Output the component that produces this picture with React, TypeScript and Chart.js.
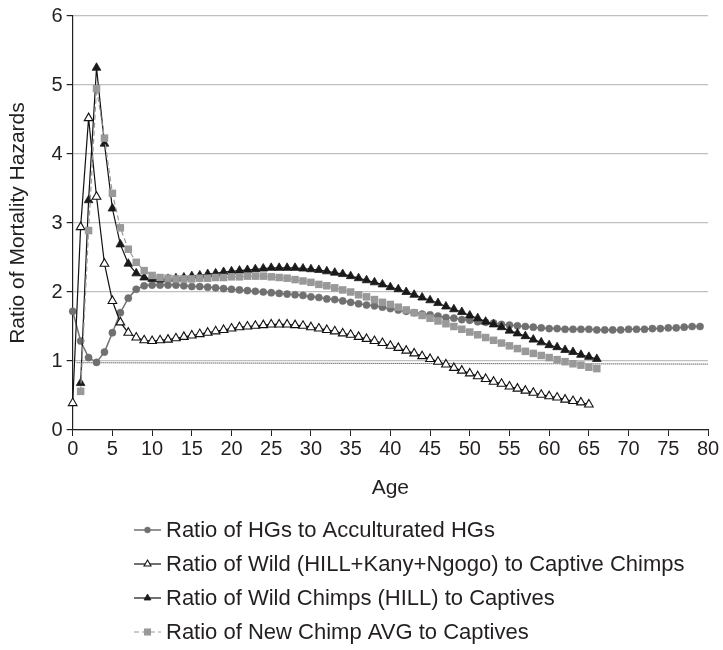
import React, { useEffect, useRef } from 'react';
import { Chart, registerables } from 'chart.js';

Chart.register(...registerables);

// ---------- data ----------
const AGES = [
  0, 1, 2, 3, 4, 5, 6, 7, 8, 9, 10, 11, 12, 13, 14, 15, 16, 17, 18, 19,
  20, 21, 22, 23, 24, 25, 26, 27, 28, 29, 30, 31, 32, 33, 34, 35, 36, 37, 38, 39,
  40, 41, 42, 43, 44, 45, 46, 47, 48, 49, 50, 51, 52, 53, 54, 55, 56, 57, 58, 59,
  60, 61, 62, 63, 64, 65, 66, 67, 68, 69, 70, 71, 72, 73, 74, 75, 76, 77, 78, 79,
];

const HG_TO_ACCULTURATED = [
  1.72, 1.29, 1.05, 0.98, 1.13, 1.41, 1.70, 1.91, 2.04, 2.09,
  2.10, 2.10, 2.10, 2.10, 2.09, 2.08, 2.08, 2.07, 2.06, 2.05,
  2.04, 2.03, 2.02, 2.01, 2.00, 1.99, 1.98, 1.97, 1.96, 1.95,
  1.93, 1.92, 1.90, 1.89, 1.87, 1.85, 1.83, 1.81, 1.80, 1.78,
  1.76, 1.74, 1.72, 1.70, 1.68, 1.67, 1.65, 1.63, 1.62, 1.60,
  1.59, 1.57, 1.56, 1.55, 1.53, 1.52, 1.51, 1.50, 1.49, 1.48,
  1.47, 1.47, 1.46, 1.46, 1.46, 1.46, 1.45, 1.45, 1.45, 1.45,
  1.46, 1.46, 1.46, 1.47, 1.47, 1.48, 1.48, 1.49, 1.50, 1.50,
];

const WILD_ALL_TO_CAPTIVE = [
  0.39, 2.94, 4.52, 3.38, 2.41, 1.87, 1.56, 1.41, 1.34, 1.30,
  1.29, 1.30, 1.31, 1.33, 1.35, 1.37, 1.39, 1.41, 1.43, 1.45,
  1.47, 1.49, 1.50, 1.51, 1.52, 1.53, 1.53, 1.53, 1.52, 1.51,
  1.49, 1.47, 1.45, 1.43, 1.40, 1.38, 1.35, 1.32, 1.29, 1.26,
  1.22, 1.19, 1.15, 1.11, 1.07, 1.03, 0.99, 0.95, 0.90, 0.86,
  0.82, 0.78, 0.74, 0.70, 0.67, 0.63, 0.60, 0.57, 0.54, 0.51,
  0.49, 0.47, 0.44, 0.42, 0.40, 0.37,
];

const HILL_TO_CAPTIVE = [
  null, 0.68, 3.33, 5.25, 4.15, 3.21, 2.69, 2.41, 2.27, 2.21,
  2.19, 2.18, 2.19, 2.20, 2.21, 2.23, 2.24, 2.26, 2.27, 2.29,
  2.30, 2.31, 2.32, 2.33, 2.34, 2.35, 2.35, 2.35, 2.35, 2.34,
  2.33, 2.32, 2.30, 2.28, 2.26, 2.23, 2.20, 2.17, 2.14, 2.11,
  2.07, 2.04, 2.00, 1.96, 1.92, 1.88, 1.84, 1.79, 1.75, 1.71,
  1.66, 1.62, 1.57, 1.53, 1.49, 1.44, 1.40, 1.36, 1.31, 1.27,
  1.23, 1.20, 1.16, 1.13, 1.09, 1.06, 1.03,
];

const NEW_AVG_TO_CAPTIVE = [
  null, 0.56, 2.89, 4.95, 4.23, 3.43, 2.93, 2.62, 2.43, 2.31,
  2.24, 2.21, 2.20, 2.19, 2.19, 2.19, 2.20, 2.20, 2.21, 2.21,
  2.22, 2.22, 2.23, 2.23, 2.23, 2.22, 2.21, 2.20, 2.18, 2.16,
  2.14, 2.11, 2.09, 2.06, 2.03, 2.00, 1.96, 1.93, 1.89, 1.85,
  1.82, 1.78, 1.74, 1.70, 1.66, 1.62, 1.58, 1.54, 1.50, 1.46,
  1.42, 1.38, 1.34, 1.30, 1.26, 1.22, 1.18, 1.14, 1.11, 1.08,
  1.05, 1.02, 0.99, 0.96, 0.94, 0.91, 0.89,
];

// dotted reference line (ratio ~1)
const REF_AGES = [0.5, 80];
const REF_VALUES = [0.975, 0.955];

const SERIES_LABELS = [
  'Ratio of HGs to Acculturated HGs',
  'Ratio of Wild (HILL+Kany+Ngogo) to Captive Chimps',
  'Ratio of Wild Chimps (HILL) to Captives',
  'Ratio of New Chimp AVG to Captives',
];

const X_MIN = 0;
const X_MAX = 80;
const X_STEP = 5;
const Y_MIN = 0;
const Y_MAX = 6;
const Y_STEP = 1;
const X_TITLE = 'Age';
const Y_TITLE = 'Ratio of Mortality Hazards';

// ---------- helpers ----------
const FONT = "'Liberation Sans', Arial, Helvetica, sans-serif";
const TEXT = '#231f20';

function toPoints(values: (number | null)[]) {
  const pts: { x: number; y: number }[] = [];
  values.forEach((v, i) => {
    if (v !== null && v !== undefined) pts.push({ x: AGES[i], y: v });
  });
  return pts;
}

function drawMarker(
  ctx: CanvasRenderingContext2D,
  style: string,
  x: number,
  y: number,
  r: number,
  fill: string,
  stroke: string,
  lw: number
) {
  ctx.beginPath();
  if (style === 'circle') {
    ctx.arc(x, y, r, 0, Math.PI * 2);
  } else if (style === 'triangle') {
    ctx.moveTo(x, y - r);
    ctx.lineTo(x + r * 0.866, y + r / 2);
    ctx.lineTo(x - r * 0.866, y + r / 2);
    ctx.closePath();
  } else {
    const s = r * Math.SQRT1_2;
    ctx.rect(x - s, y - s, 2 * s, 2 * s);
  }
  ctx.fillStyle = fill;
  ctx.fill();
  if (lw > 0) {
    ctx.lineWidth = lw;
    ctx.strokeStyle = stroke;
    ctx.stroke();
  }
}

const LEGEND_TOP = 530;
const LEGEND_GAP = 34;
const LEGEND_LINE_X0 = 134;
const LEGEND_LINE_X1 = 161;
const LEGEND_TEXT_X = 166;

const stackedLegend = {
  id: 'stackedLegend',
  afterDraw(chart: any) {
    const ctx: CanvasRenderingContext2D = chart.ctx;
    ctx.save();
    const sets = chart.data.datasets.filter((d: any) => d.legendIndex !== undefined);
    sets.forEach((ds: any) => {
      const y = LEGEND_TOP + ds.legendIndex * LEGEND_GAP;
      ctx.beginPath();
      ctx.setLineDash(ds.borderDash || []);
      ctx.lineWidth = ds.borderWidth;
      ctx.strokeStyle = ds.borderColor;
      ctx.moveTo(LEGEND_LINE_X0, y);
      ctx.lineTo(LEGEND_LINE_X1, y);
      ctx.stroke();
      ctx.setLineDash([]);
      const cx = (LEGEND_LINE_X0 + LEGEND_LINE_X1) / 2;
      drawMarker(
        ctx,
        ds.pointStyle,
        cx,
        y,
        ds.legendMarkerRadius,
        ds.pointBackgroundColor,
        ds.pointBorderColor,
        ds.pointBorderWidth
      );
      ctx.fillStyle = TEXT;
      ctx.font = `22px ${FONT}`;
      ctx.textAlign = 'left';
      ctx.textBaseline = 'middle';
      ctx.fillText(ds.label, LEGEND_TEXT_X, y + 1);
    });
    ctx.restore();
  },
};

export default function App() {
  const ref = useRef<HTMLCanvasElement | null>(null);

  useEffect(() => {
    if (!ref.current) return;
    const chart = new Chart(ref.current, {
      type: 'line',
      data: {
        datasets: [
          {
            label: SERIES_LABELS[0],
            data: toPoints(HG_TO_ACCULTURATED),
            borderColor: '#707070',
            borderWidth: 1.5,
            pointStyle: 'circle',
            pointRadius: 3.6,
            pointBackgroundColor: '#707070',
            pointBorderColor: '#707070',
            pointBorderWidth: 0.5,
            legendIndex: 0,
            legendMarkerRadius: 3,
            order: 4,
            clip: false,
          } as any,
          {
            label: SERIES_LABELS[1],
            data: toPoints(WILD_ALL_TO_CAPTIVE),
            borderColor: '#111111',
            borderWidth: 1.2,
            pointStyle: 'triangle',
            pointRadius: 5,
            pointBackgroundColor: '#ffffff',
            pointBorderColor: '#111111',
            pointBorderWidth: 1.1,
            legendIndex: 1,
            legendMarkerRadius: 4,
            order: 3,
            clip: false,
          } as any,
          {
            label: SERIES_LABELS[2],
            data: toPoints(HILL_TO_CAPTIVE),
            borderColor: '#111111',
            borderWidth: 1.2,
            pointStyle: 'triangle',
            pointRadius: 5,
            pointBackgroundColor: '#1a1a1a',
            pointBorderColor: '#1a1a1a',
            pointBorderWidth: 0.8,
            legendIndex: 2,
            legendMarkerRadius: 4,
            order: 2,
            clip: false,
          } as any,
          {
            label: SERIES_LABELS[3],
            data: toPoints(NEW_AVG_TO_CAPTIVE),
            borderColor: '#9a9a9a',
            borderWidth: 1.2,
            borderDash: [5, 3],
            pointStyle: 'rect',
            pointRadius: 5.3,
            pointBackgroundColor: '#999999',
            pointBorderColor: '#999999',
            pointBorderWidth: 0,
            legendIndex: 3,
            legendMarkerRadius: 5,
            order: 1,
            clip: false,
          } as any,
          {
            label: 'ref',
            data: REF_AGES.map((a, i) => ({ x: a, y: REF_VALUES[i] })),
            borderColor: '#222222',
            borderWidth: 1,
            borderDash: [1, 1],
            pointRadius: 0,
            order: 5,
          } as any,
        ],
      },
      options: {
        animation: false,
        responsive: true,
        maintainAspectRatio: false,
        layout: { padding: { top: 15, right: 15, bottom: 149, left: 0 } },
        plugins: {
          legend: { display: false },
          tooltip: { enabled: false },
        },
        elements: { line: { tension: 0 } },
        scales: {
          x: {
            type: 'linear',
            min: X_MIN,
            max: X_MAX,
            ticks: {
              stepSize: X_STEP,
              color: TEXT,
              font: { family: FONT, size: 20 },
              padding: 1,
              maxRotation: 0,
            },
            grid: {
              drawOnChartArea: false,
              drawTicks: true,
              tickLength: 6,
              tickColor: '#222',
            },
            border: { color: '#222', width: 1.2 },
            title: {
              display: true,
              text: X_TITLE,
              color: TEXT,
              font: { family: FONT, size: 21 },
              padding: { top: 0, bottom: 0 },
            },
            afterFit(scale: any) {
              scale.height = 71;
            },
          },
          y: {
            type: 'linear',
            min: Y_MIN,
            max: Y_MAX,
            ticks: {
              stepSize: Y_STEP,
              color: TEXT,
              font: { family: FONT, size: 20 },
              padding: 4,
            },
            grid: {
              color: '#c0c0c0',
              lineWidth: 1.2,
              drawTicks: true,
              tickLength: 6,
              tickColor: '#222',
            },
            border: { color: '#222', width: 1.2 },
            title: {
              display: true,
              text: Y_TITLE,
              color: TEXT,
              font: { family: FONT, size: 21 },
              padding: { top: 6, bottom: 0 },
            },
            afterFit(scale: any) {
              scale.width = 72.7;
            },
          },
        },
      } as any,
      plugins: [stackedLegend],
    });
    return () => chart.destroy();
  }, []);

  return (
    <div style={{ position: 'absolute', left: 0, top: 0, width: 723, height: 650, background: '#fff' }}>
      <canvas ref={ref} />
    </div>
  );
}
